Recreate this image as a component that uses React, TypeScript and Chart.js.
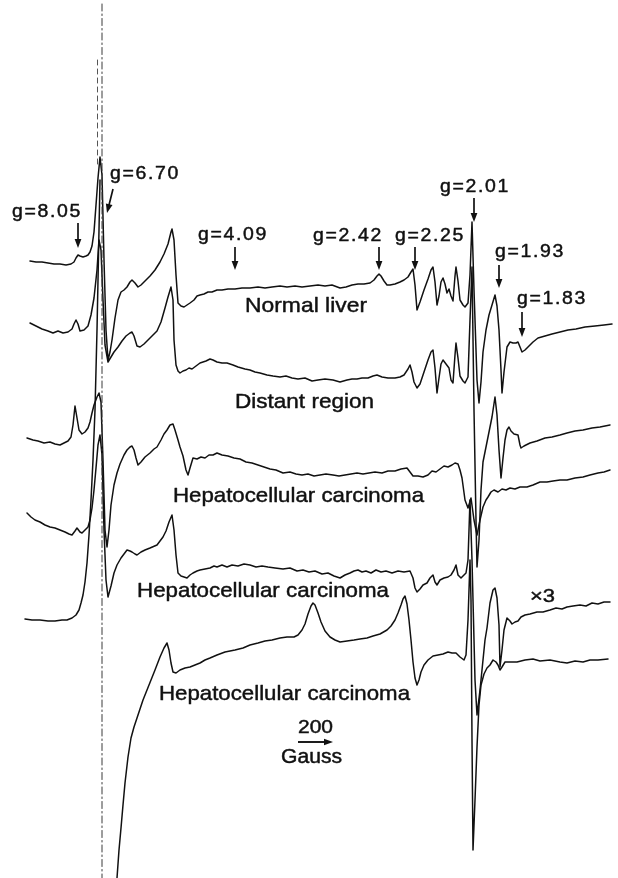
import React, { useEffect, useRef } from "react";
import { Chart, registerables } from "chart.js";

Chart.register(...registerables);

// ---- Spectra (x = field position, y = signal, figure units, downward) ----
const normalLiverX = [30,36,42,48,54,60,66,71,74,76,78,80,83,86,88,90,92,94,96,98,100,102,104,106,108,110,112,115,118,121,124,127,130,132,135,138,141,145,150,155,160,164,168,171,172,174,176,178,181,184,187,190,194,197,200,204,208,212,217,222,228,235,242,250,258,265,272,280,287,295,302,310,318,325,332,340,346,352,358,364,370,374,377,379,381,384,387,390,395,400,404,408,411,413,415,417,420,424,428,431,433,435,437,439,441,443,445,447,449,451,453,455,456,458,460,463,465,468,470,472,474,477,479,481,483,486,489,492,495,497,499,501,502,504,507,510,513,516,518,520,522,525,528,533,538,545,552,560,568,576,585,595,604,612];
const normalLiverY = [261,262,262,263,264,264,265,264,262,258,255,256,257,256,255,252,246,232,205,178,157,175,260,330,360,352,340,318,300,292,290,287,282,280,283,287,285,281,276,270,262,254,244,232,229,240,275,303,306,307,305,303,300,296,295,294,292,292,290,290,289,289,288,288,287,288,287,286,287,286,287,286,285,286,285,288,287,285,284,284,283,280,276,274,276,281,285,285,284,282,280,277,272,269,285,310,302,290,279,270,267,282,305,296,282,278,284,293,289,296,301,276,267,281,300,305,307,303,275,222,290,380,403,382,352,330,315,305,295,306,330,370,393,372,347,342,343,343,342,347,352,350,347,342,338,336,334,332,330,329,327,326,325,324];

const distantRegionX = [30,36,42,48,53,58,63,68,72,74,76,78,80,84,88,91,94,97,99,101,103,105,108,111,114,118,122,126,130,132,134,137,140,144,148,152,157,161,165,168,171,173,174,176,178,180,183,186,189,192,196,200,203,206,210,213,217,222,227,233,238,245,250,255,260,267,273,280,286,292,298,305,312,318,325,333,340,347,352,357,362,368,373,377,382,388,395,400,404,408,410,412,414,417,420,424,428,431,433,435,437,439,441,443,446,449,451,453,455,456,458,460,463,465,468,470,472,474,476,477,479,481,483,486,489,492,495,497,499,501,503,505,507,509,511,514,518,520,521,524,530,537,545,552,560,567,575,583,592,600,610];
const distantRegionY = [323,326,329,331,333,331,333,332,329,324,320,324,331,330,326,315,298,270,240,250,300,345,362,357,352,347,341,336,333,332,336,346,347,344,340,336,331,322,308,297,287,300,340,365,371,373,371,370,368,369,366,363,362,361,359,360,362,363,363,365,367,369,370,372,373,375,376,377,376,378,379,378,381,380,379,380,382,380,379,379,378,378,376,375,377,378,378,377,375,369,365,372,382,388,384,372,360,352,350,368,393,378,364,360,364,368,380,383,355,343,358,376,381,383,377,320,267,410,520,567,540,490,462,447,432,417,397,415,450,478,458,440,430,427,431,434,435,445,448,446,443,441,438,437,435,433,431,430,428,427,425];

const carcinomaAX = [27,33,38,44,50,55,60,64,68,71,73,75,77,79,82,85,88,90,92,94,97,99,101,103,105,107,109,111,114,117,120,124,127,130,132,134,136,138,141,145,150,154,157,161,164,167,170,173,175,178,180,183,186,188,190,193,197,201,205,209,213,217,222,228,234,240,246,252,258,264,270,276,283,290,296,302,308,314,320,326,333,339,345,351,357,363,369,375,382,388,395,401,407,410,413,418,423,428,432,436,440,444,448,452,455,458,460,462,465,468,471,474,477,480,483,486,488,491,494,498,502,506,510,515,520,527,533,540,547,553,560,567,575,583,590,598,604,610];
const carcinomaAY = [438,440,441,443,442,444,445,443,441,437,425,406,418,430,434,432,428,422,413,405,397,393,402,460,530,547,530,505,485,473,464,455,450,447,446,450,458,465,462,457,453,449,447,440,434,430,425,424,430,440,447,456,470,475,468,458,459,457,458,455,455,453,455,456,458,459,462,463,465,467,469,470,473,472,474,475,474,476,475,474,475,476,475,474,473,474,473,472,473,471,471,469,468,472,476,476,477,475,471,472,469,466,467,465,463,464,470,478,500,508,498,520,535,520,507,500,497,492,490,492,489,490,488,489,487,487,485,482,482,481,480,480,478,477,475,473,472,470];

const carcinomaBX = [27,31,35,40,45,50,55,60,65,69,72,75,77,80,82,85,88,90,92,94,96,98,100,102,104,106,108,111,114,117,121,124,127,130,132,135,137,141,145,150,157,160,163,166,169,172,174,176,178,181,184,187,190,193,197,200,205,210,214,217,222,227,232,238,244,250,256,262,268,275,283,290,297,303,309,315,322,328,334,340,345,350,354,358,362,366,371,376,381,386,392,398,404,410,413,415,417,420,423,427,430,433,435,437,440,444,448,451,454,456,458,461,464,466,468,470,472,475,477,480,483,485,487,490,493,495,497,499,500,502,504,507,510,512,515,518,521,525,530,537,543,550,556,562,567,573,580,586,592,598,604,610];
const carcinomaBY = [513,517,520,522,525,527,528,530,532,534,535,531,528,532,533,530,527,520,508,490,468,445,435,455,530,580,597,586,573,565,558,554,550,551,552,554,555,552,550,548,545,541,537,531,522,515,530,555,573,576,577,578,575,573,571,570,569,568,566,567,565,567,565,566,564,565,567,566,567,568,569,568,571,570,572,571,574,573,576,578,575,573,571,570,572,571,573,570,572,571,573,571,572,571,578,588,592,589,585,583,578,575,582,585,580,578,577,575,570,565,575,578,575,573,560,500,560,680,715,690,660,640,628,603,590,588,598,625,667,650,630,618,621,624,622,621,617,615,614,612,612,610,608,609,607,606,605,606,603,604,602,602];

const carcinomaCX = [25,32,40,48,55,62,67,72,76,79,81,83,85,87,89,91,93,95,97,99,100,108,117,119,121,123,125,128,131,134,137,140,143,147,151,155,160,164,167,169,171,173,176,180,185,190,195,200,205,210,217,225,235,243,250,258,265,272,280,287,294,298,302,305,308,311,313,315,318,321,325,330,335,340,347,354,360,367,373,380,387,391,395,398,401,403,405,407,409,411,413,415,417,419,421,424,428,433,438,443,448,452,456,460,464,466,468,470,471,472,473,475,477,479,481,484,487,490,493,496,498,500,502,505,510,517,525,533,540,550,560,567,575,583,590,598,608];
const carcinomaCY = [619,620,620,621,621,620,620,618,615,610,603,595,582,563,535,500,460,410,330,230,180,null,878,850,828,805,783,757,738,727,718,709,700,690,680,670,657,648,643,650,663,672,673,670,668,667,665,663,660,658,655,652,650,648,645,643,641,640,638,637,637,635,630,624,614,606,603,605,613,622,631,637,640,642,641,640,639,638,636,634,630,626,620,613,605,599,596,604,620,640,662,678,685,680,672,665,660,656,655,654,652,653,653,657,660,655,620,560,600,740,850,800,747,705,685,674,668,665,660,662,665,670,667,662,662,662,660,659,661,660,662,663,661,662,660,660,659];

// off-scale sweep of the g = 6.70 line (drawn faint, dash-dot)
const offScaleX = [102, 102];
const offScaleY = [4, 878];
const offScaleShortX = [97.5, 97.5];
const offScaleShortY = [60, 165];

// ---- Annotations ----
const gLabels = ["g=8.05", "g=6.70", "g=4.09", "g=2.42", "g=2.25", "g=2.01", "g=1.93", "g=1.83"];
const gLabelX = [12, 110, 198, 313, 395, 440, 495, 517];
const gLabelY = [217, 179, 240, 241, 241, 192, 257, 304];
const gArrowFromX = [78, 113, 235, 379, 415, 474, 499, 522];
const gArrowFromY = [223, 189, 247, 247, 247, 198, 265, 312];
const gArrowToX = [78, 107, 235, 379, 415, 474, 499, 522];
const gArrowToY = [248, 213, 270, 270, 270, 222, 288, 337];

const sampleLabels = ["Normal liver", "Distant region", "Hepatocellular carcinoma", "Hepatocellular carcinoma", "Hepatocellular carcinoma"];
const sampleLabelX = [245, 235, 173, 137, 159];
const sampleLabelY = [312, 408, 502, 597, 700];
const sampleLabelW = [122, 139, 251, 252, 251];

const INK = "#111111";
const FONT = '"Liberation Sans", Arial, Helvetica, sans-serif';

function pts(xs: number[], ys: (number | null)[]) {
  return xs.map((x, i) => ({ x, y: ys[i] }));
}

function drawStretchedText(ctx: CanvasRenderingContext2D, text: string, px: number, py: number, size: number, width: number, spacing = 0) {
  ctx.save();
  ctx.font = `${size}px ${FONT}`;
  try { (ctx as any).letterSpacing = `${spacing}px`; } catch (e) {}
  const w = ctx.measureText(text).width;
  const s = width / w;
  ctx.translate(px, py);
  ctx.scale(s, 1);
  ctx.fillStyle = INK;
  ctx.strokeStyle = INK;
  ctx.lineWidth = 0.45;
  ctx.lineJoin = "round";
  ctx.textBaseline = "alphabetic";
  ctx.textAlign = "left";
  ctx.fillText(text, 0, 0);
  ctx.strokeText(text, 0, 0);
  ctx.restore();
}

function drawArrow(ctx: CanvasRenderingContext2D, x1: number, y1: number, x2: number, y2: number, head = 9, half = 3.4, lw = 1.7) {
  const dx = x2 - x1, dy = y2 - y1;
  const len = Math.hypot(dx, dy);
  const ux = dx / len, uy = dy / len;
  const bx = x2 - ux * head, by = y2 - uy * head;
  ctx.save();
  ctx.strokeStyle = INK;
  ctx.fillStyle = INK;
  ctx.lineWidth = lw;
  ctx.beginPath();
  ctx.moveTo(x1, y1);
  ctx.lineTo(bx + ux * 1, by + uy * 1);
  ctx.stroke();
  ctx.beginPath();
  ctx.moveTo(x2, y2);
  ctx.lineTo(bx - uy * half, by + ux * half);
  ctx.lineTo(bx + uy * half, by - ux * half);
  ctx.closePath();
  ctx.fill();
  ctx.restore();
}

const annotationPlugin = {
  id: "figureAnnotations",
  afterDatasetsDraw(chart: any) {
    const ctx: CanvasRenderingContext2D = chart.ctx;
    const xs = chart.scales.x;
    const ys = chart.scales.y;
    const X = (v: number) => xs.getPixelForValue(v);
    const Y = (v: number) => ys.getPixelForValue(v);

    gLabels.forEach((t, i) => {
      drawStretchedText(ctx, t, X(gLabelX[i]), Y(gLabelY[i]), 17.5, 70, 1.5);
      drawArrow(ctx, X(gArrowFromX[i]), Y(gArrowFromY[i]), X(gArrowToX[i]), Y(gArrowToY[i]));
    });

    sampleLabels.forEach((t, i) => {
      drawStretchedText(ctx, t, X(sampleLabelX[i]), Y(sampleLabelY[i]), 21, sampleLabelW[i]);
    });

    // gain marker
    drawStretchedText(ctx, "×3", X(530), Y(602), 18, 25);

    // field scale bar
    drawStretchedText(ctx, "200", X(298), Y(733), 18, 35);
    drawArrow(ctx, X(298), Y(742), X(333), Y(742), 9, 3.2, 1.9);
    drawStretchedText(ctx, "Gauss", X(281), Y(763), 20, 61);
  },
};

export default function App() {
  const canvasRef = useRef<HTMLCanvasElement | null>(null);

  useEffect(() => {
    const canvas = canvasRef.current;
    if (!canvas) return;
    const trace = (xs: number[], ys: (number | null)[]) => ({
      data: pts(xs, ys),
      showLine: true,
      borderColor: INK,
      borderWidth: 1.5,
      pointRadius: 0,
      tension: 0,
      spanGaps: false,
      fill: false,
    });
    const chart = new Chart(canvas, {
      type: "scatter",
      data: {
        datasets: [
          {
            data: pts(offScaleX, offScaleY),
            showLine: true,
            borderColor: "#3a3a3a",
            borderWidth: 1,
            borderDash: [7, 3, 1.5, 3],
            pointRadius: 0,
          },
          {
            data: pts(offScaleShortX, offScaleShortY),
            showLine: true,
            borderColor: "#555",
            borderWidth: 1,
            borderDash: [5, 4],
            pointRadius: 0,
          },
          trace(normalLiverX, normalLiverY),
          trace(distantRegionX, distantRegionY),
          trace(carcinomaAX, carcinomaAY),
          trace(carcinomaBX, carcinomaBY),
          trace(carcinomaCX, carcinomaCY),
        ] as any,
      },
      options: {
        animation: false,
        responsive: false,
        maintainAspectRatio: false,
        layout: { padding: 0 },
        plugins: {
          legend: { display: false },
          tooltip: { enabled: false },
          title: { display: false },
        },
        scales: {
          x: { type: "linear", min: 0, max: 618, display: false },
          y: { type: "linear", min: 0, max: 878, reverse: true, display: false },
        },
        elements: { line: { borderJoinStyle: "round", borderCapStyle: "round" } },
      } as any,
      plugins: [annotationPlugin],
    });
    return () => chart.destroy();
  }, []);

  return (
    <div style={{ position: "absolute", left: 0, top: 0, width: 618, height: 878, background: "#fff" }}>
      <canvas ref={canvasRef} width={618} height={878} style={{ display: "block", width: 618, height: 878 }} />
    </div>
  );
}
